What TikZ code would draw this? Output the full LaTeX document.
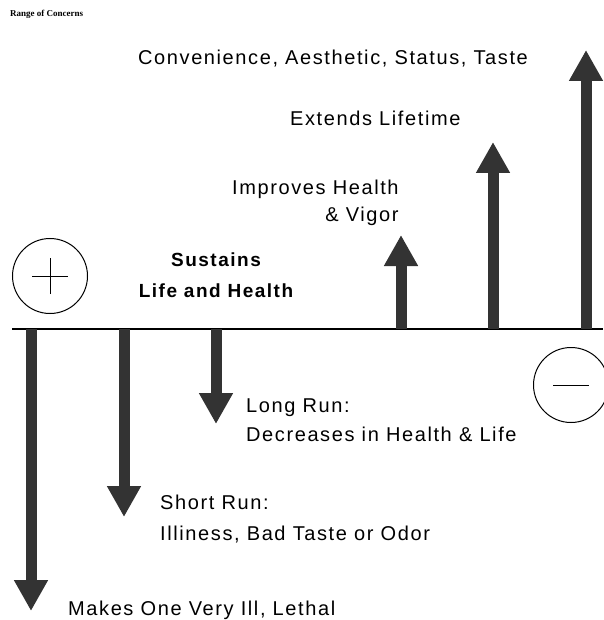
\documentclass[tikz,border=0pt]{standalone}
\usepackage{fontspec}
\setmainfont{Liberation Sans}[LetterSpace=8]
\newfontfamily\headfont{Liberation Serif}
\usetikzlibrary{arrows.meta,positioning}

\begin{document}
\begin{tikzpicture}[x=1pt,y=-1pt,font=\fontsize{20}{24}\selectfont]
\tikzstyle{label}=[anchor=base west, inner sep=0pt]
\tikzstyle{big arrow}=[draw=black!80, line width=11pt, -{Triangle[width=32pt,length=31pt]}]
\tikzstyle{sign}=[draw, circle, minimum size=75pt, line width=1pt]
\useasboundingbox (0,0) rectangle (603,620);

% title
\node[label, font=\headfont\bfseries\fontsize{9}{10}\selectfont] (title) at (10,17) {Range of Concerns};

% axis and signs
\coordinate (left) at (12,329);
\coordinate (right) at (603,329);
\draw[line width=1.3pt] (left) -- (right);
\node[sign] (plus) at (50,276) {};
\node[sign] (minus) at (571,385) {};
\draw[line width=1pt] ([xshift=-18pt]plus.center) -- ([xshift=18pt]plus.center)
                      ([yshift=-18pt]plus.center) -- ([yshift=18pt]plus.center);
\draw[line width=1pt] ([xshift=-18pt]minus.center) -- ([xshift=18pt]minus.center);

% upward arrows
\coordinate (u1) at (401,329);  \coordinate (u1t) at (401,235);
\coordinate (u2) at (493,329);  \coordinate (u2t) at (493,142);
\coordinate (u3) at (586,329);  \coordinate (u3t) at (586,50);
\draw[big arrow] (u1) -- (u1t);
\draw[big arrow] (u2) -- (u2t);
\draw[big arrow] (u3) -- (u3t);

% downward arrows
\coordinate (d1) at (31,329);   \coordinate (d1t) at (31,611);
\coordinate (d2) at (124,329);  \coordinate (d2t) at (124,517);
\coordinate (d3) at (216,329);  \coordinate (d3t) at (216,424);
\draw[big arrow] (d1) -- (d1t);
\draw[big arrow] (d2) -- (d2t);
\draw[big arrow] (d3) -- (d3t);

% benefits
\node[label] (conv) at (138,65) {Convenience, Aesthetic, Status, Taste};
\node[label] (ext) at (290,126) {Extends Lifetime};
\node[label] (imp) at (232,195) {Improves Health};
\node[label, anchor=base east] (vig) at (imp.base east |- 0,222) {\& Vigor};
\node[font=\bfseries\fontsize{19}{22}\selectfont, align=center, inner sep=0pt] (sus) at (216,275) {Sustains\\[9pt]Life and Health};

% harms
\node[label] (long) at (246,412) {Long Run:};
\node[label] (dec) at (246,441) {Decreases in Health \& Life};
\node[label] (short) at (160,509) {Short Run:};
\node[label] (ill) at (160,540) {Illiness, Bad Taste or Odor};
\node[label] (leth) at (68,615) {Makes One Very Ill, Lethal};
\end{tikzpicture}
\end{document}
